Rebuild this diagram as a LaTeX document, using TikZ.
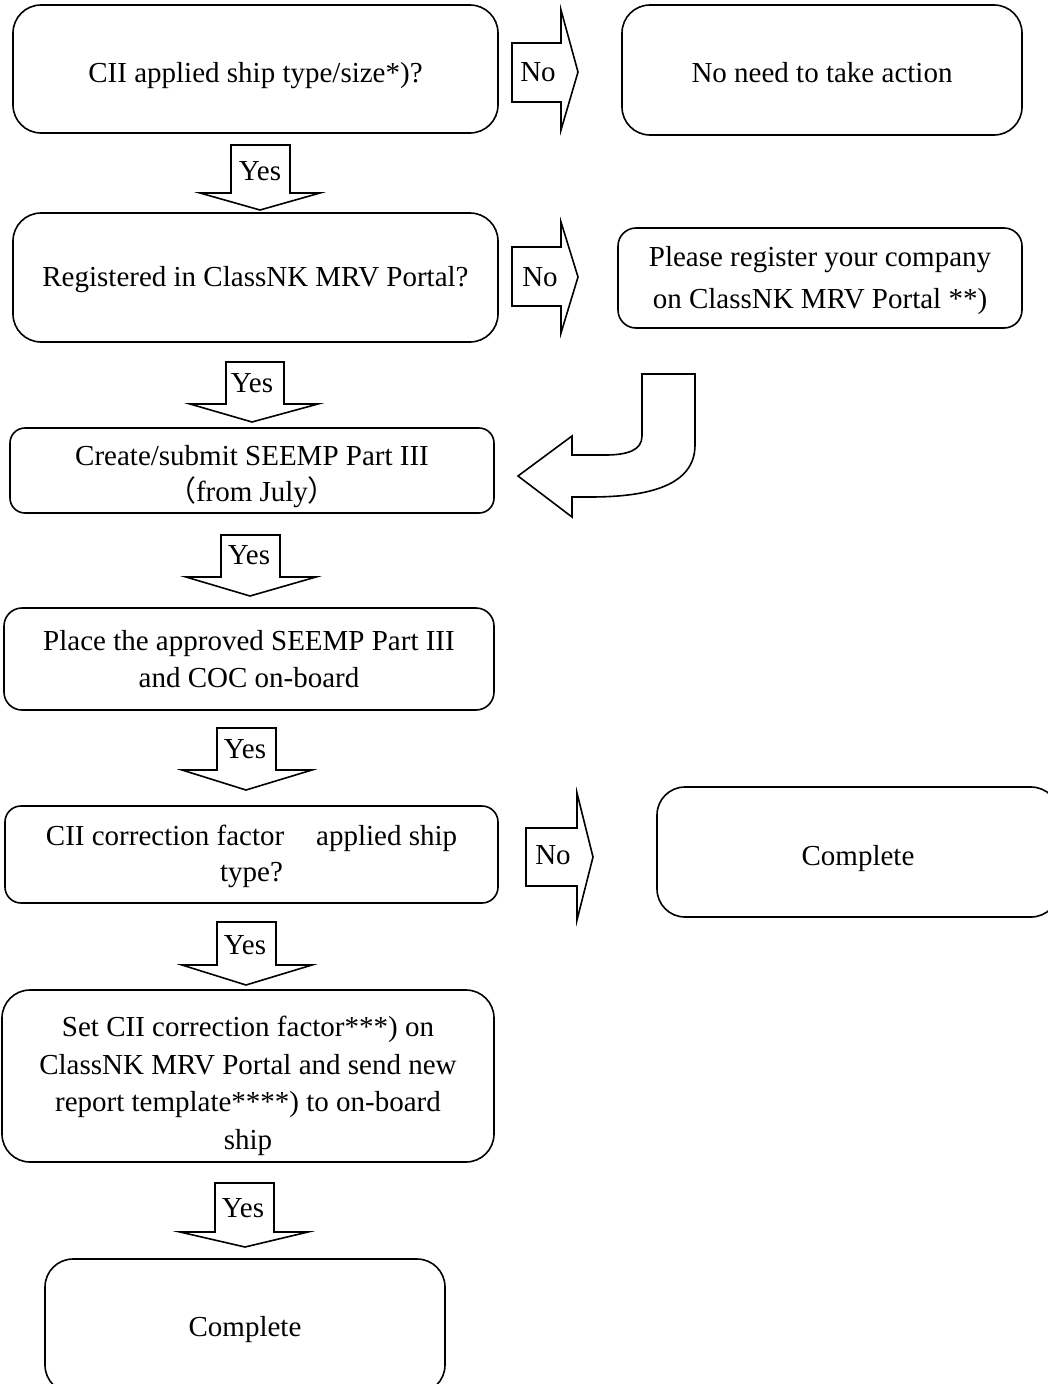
\documentclass[tikz,border=0pt]{standalone}
\usepackage{fontspec}
\setmainfont{Liberation Serif}
\newfontfamily\cjkfont{Noto Sans CJK SC}
\begin{document}
\begin{tikzpicture}[x=1pt,y=-1pt,
  box/.style={draw, line width=1.6pt, rounded corners=#1, inner sep=0pt},
  box/.default=28pt,
  txt/.style={align=center, inner sep=0pt, font=\fontsize{29}{37.5}\selectfont},
  blk/.style={draw, line width=1.6pt, line join=miter},
  lbl/.style={font=\fontsize{29}{35}\selectfont, inner sep=0pt}]
\useasboundingbox (0,0) rectangle (1048,1384);
\clip (0,0) rectangle (1048,1384);

% boxes
\node[box, minimum width=485pt, minimum height=128pt] (b1) at (255.5,69) {};
\node[txt] (b1t) at ([yshift=-7pt]b1.center) {CII applied ship type/size*)?};
\node[box, minimum width=400pt, minimum height=130pt] (r1) at (822,70) {};
\node[txt] (r1t) at ([yshift=-3pt]r1.center) {No need to take action};
\node[box, minimum width=485pt, minimum height=129pt] (b2) at (255.5,277.5) {};
\node[txt] (b2t) at ([yshift=-2pt]b2.center) {Registered in ClassNK MRV Portal?};
\node[box=18pt, minimum width=404pt, minimum height=100pt] (r2) at (820,278) {};
\node[txt, font=\fontsize{29}{42}\selectfont] (r2t) at ([yshift=-3pt]r2.center)
  {Please register your company\\on ClassNK MRV Portal **)};
\node[box=15pt, minimum width=484pt, minimum height=85pt] (b3) at (252,470.5) {};
\node[txt, font=\fontsize{29}{36}\selectfont] (b3t) at ([yshift=-6pt]b3.center)
  {Create/submit SEEMP Part III\\{\cjkfont （}from July{\cjkfont ）}};
\node[box=18pt, minimum width=490pt, minimum height=102pt] (b4) at (249,659) {};
\node[txt] (b4t) at (b4.center) {Place the approved SEEMP Part III\\and COC on-board};
\node[box=16pt, minimum width=493pt, minimum height=97pt] (b5) at (251.5,854.5) {};
\node[txt, font=\fontsize{29}{36}\selectfont] (b5t) at ([yshift=-2pt]b5.center)
  {CII correction factor\hspace{0.85em} applied ship\\type?};
\node[box, minimum width=402pt, minimum height=130pt] (r5) at (858,852) {};
\node[txt] (r5t) at ([yshift=-7pt]r5.center) {Complete};
\node[box, minimum width=492pt, minimum height=172pt] (b6) at (248,1076) {};
\node[txt] (b6t) at ([yshift=-10pt]b6.center)
  {Set CII correction factor***) on\\ClassNK MRV Portal and send new\\report template****) to on-board\\ship};
\node[box, minimum width=400pt, minimum height=134pt] (b7) at (245,1326) {};
\node[txt] (b7t) at ([yshift=-4pt]b7.center) {Complete};

% Yes arrows (down)
\draw[blk] (231,145) -- (290,145) -- (290,193) -- (320,193) -- (260,210) -- (200,193) -- (231,193) -- cycle;
\node[lbl] (y1) at (260,171) {Yes};
\draw[blk] (226,362) -- (284,362) -- (284,404) -- (318,404) -- (252,422) -- (190,404) -- (226,404) -- cycle;
\node[lbl] (y2) at (252,383) {Yes};
\draw[blk] (221,535) -- (280,535) -- (280,577) -- (316,577) -- (250,596) -- (186,577) -- (221,577) -- cycle;
\node[lbl] (y3) at (249,555) {Yes};
\draw[blk] (217,728) -- (276,728) -- (276,770) -- (312,770) -- (246,790) -- (182,770) -- (217,770) -- cycle;
\node[lbl] (y4) at (245,749) {Yes};
\draw[blk] (217,922) -- (276,922) -- (276,965) -- (312,965) -- (246,985) -- (182,965) -- (217,965) -- cycle;
\node[lbl] (y5) at (245,945) {Yes};
\draw[blk] (215,1183) -- (274,1183) -- (274,1232) -- (308,1232) -- (245,1247) -- (180,1232) -- (215,1232) -- cycle;
\node[lbl] (y6) at (243,1208) {Yes};

% No arrows (right)
\draw[blk] (512,43) -- (561,43) -- (561,10) -- (578,72) -- (561,130) -- (561,102) -- (512,102) -- cycle;
\node[lbl] (n1) at (538,72) {No};
\draw[blk] (512,247) -- (561,247) -- (561,222) -- (578,277) -- (561,333) -- (561,306) -- (512,306) -- cycle;
\node[lbl] (n2) at (540,277) {No};
\draw[blk] (526,828) -- (577,828) -- (577,793) -- (593,857) -- (577,920) -- (577,886) -- (526,886) -- cycle;
\node[lbl] (n3) at (553,855) {No};

% curved return arrow
\draw[blk] (642,374) -- (695,374) -- (695,445) .. controls (695,485) and (650,497) .. (590,497) -- (572,497)
  -- (572,517) -- (518,476) -- (572,436) -- (572,455) -- (605,455)
  .. controls (628,455) and (642,450) .. (642,436) -- cycle;
\end{tikzpicture}
\end{document}
